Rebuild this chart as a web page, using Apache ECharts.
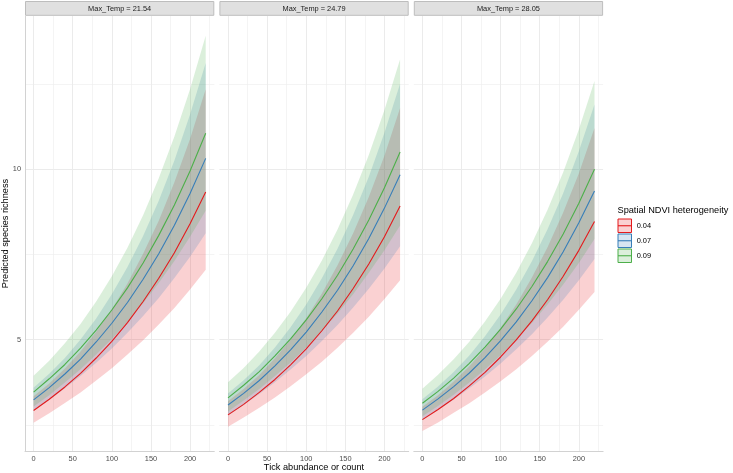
<!DOCTYPE html>
<html><head><meta charset="utf-8">
<script src="https://cdn.jsdelivr.net/npm/echarts@6/dist/echarts.min.js"></script>
<style>html,body{margin:0;padding:0;background:#fff}#c{width:733px;height:473px}</style>
</head><body><div id="c"></div>
<script>
// ---------- data ----------
const xs = [0, 20, 40, 60, 80, 100, 120, 140, 160, 180, 200, 220];
const panelLabels = ['Max_Temp = 21.54', 'Max_Temp = 24.79', 'Max_Temp = 28.05'];
const groupLabels = ['0.04', '0.07', '0.09'];
const xTicks = [0, 50, 100, 150, 200];
const xMinorTicks = [25, 75, 125, 175, 225];
const yTicks = [5, 10];
const yMinorTicks = [2.5, 7.5, 12.5];

// Max_Temp = 21.54
const fit_21_004 = [2.92, 3.25, 3.61, 4.01, 4.46, 4.95, 5.50, 6.12, 6.80, 7.55, 8.40, 9.33];
const lo_21_004  = [2.56, 2.84, 3.14, 3.45, 3.80, 4.16, 4.56, 4.98, 5.44, 5.93, 6.47, 7.05];
const hi_21_004  = [3.34, 3.71, 4.15, 4.65, 5.23, 5.89, 6.65, 7.52, 8.49, 9.62, 10.89, 12.35];
const fit_21_007 = [3.23, 3.59, 3.99, 4.43, 4.93, 5.48, 6.09, 6.77, 7.52, 8.36, 9.29, 10.32];
const lo_21_007  = [2.91, 3.23, 3.57, 3.93, 4.32, 4.74, 5.20, 5.69, 6.22, 6.81, 7.43, 8.12];
const hi_21_007  = [3.59, 4.00, 4.46, 5.00, 5.62, 6.33, 7.13, 8.04, 9.08, 10.26, 11.61, 13.12];
const fit_21_009 = [3.46, 3.85, 4.27, 4.75, 5.28, 5.87, 6.52, 7.25, 8.06, 8.95, 9.95, 11.06];
const lo_21_009  = [3.04, 3.37, 3.74, 4.13, 4.56, 5.02, 5.52, 6.07, 6.66, 7.31, 8.02, 8.78];
const hi_21_009  = [3.94, 4.38, 4.89, 5.46, 6.12, 6.86, 7.70, 8.65, 9.74, 10.96, 12.35, 13.92];

// Max_Temp = 24.79
const fit_24_004 = [2.79, 3.10, 3.45, 3.83, 4.26, 4.73, 5.26, 5.84, 6.50, 7.22, 8.02, 8.92];
const lo_24_004  = [2.44, 2.71, 3.00, 3.30, 3.63, 3.98, 4.35, 4.76, 5.20, 5.67, 6.19, 6.74];
const hi_24_004  = [3.19, 3.55, 3.96, 4.45, 5.00, 5.63, 6.35, 7.18, 8.12, 9.19, 10.40, 11.80];
const fit_24_007 = [3.08, 3.42, 3.80, 4.23, 4.70, 5.22, 5.81, 6.45, 7.17, 7.97, 8.86, 9.84];
const lo_24_007  = [2.77, 3.08, 3.40, 3.75, 4.12, 4.52, 4.96, 5.43, 5.94, 6.49, 7.09, 7.74];
const hi_24_007  = [3.42, 3.81, 4.25, 4.77, 5.36, 6.03, 6.80, 7.67, 8.66, 9.78, 11.07, 12.51];
const fit_24_009 = [3.29, 3.66, 4.06, 4.52, 5.02, 5.58, 6.20, 6.89, 7.66, 8.51, 9.46, 10.51];
const lo_24_009  = [2.89, 3.21, 3.55, 3.93, 4.33, 4.77, 5.25, 5.77, 6.33, 6.96, 7.62, 8.35];
const hi_24_009  = [3.75, 4.17, 4.65, 5.20, 5.82, 6.52, 7.32, 8.23, 9.26, 10.42, 11.74, 13.23];

// Max_Temp = 28.05
const fit_28_004 = [2.65, 2.95, 3.27, 3.64, 4.04, 4.49, 4.99, 5.55, 6.17, 6.86, 7.62, 8.47];
const lo_28_004  = [2.32, 2.57, 2.85, 3.13, 3.45, 3.78, 4.13, 4.52, 4.94, 5.38, 5.88, 6.40];
const hi_28_004  = [3.03, 3.37, 3.77, 4.22, 4.74, 5.35, 6.03, 6.82, 7.71, 8.73, 9.88, 11.21];
const fit_28_007 = [2.93, 3.26, 3.62, 4.02, 4.47, 4.97, 5.52, 6.14, 6.82, 7.58, 8.43, 9.36];
const lo_28_007  = [2.64, 2.93, 3.24, 3.57, 3.92, 4.30, 4.72, 5.16, 5.65, 6.17, 6.74, 7.37];
const hi_28_007  = [3.25, 3.62, 4.05, 4.53, 5.10, 5.74, 6.47, 7.30, 8.24, 9.30, 10.53, 11.90];
const fit_28_009 = [3.13, 3.48, 3.87, 4.30, 4.78, 5.31, 5.90, 6.56, 7.29, 8.10, 9.00, 10.00];
const lo_28_009  = [2.75, 3.05, 3.38, 3.74, 4.12, 4.54, 5.00, 5.49, 6.03, 6.62, 7.25, 7.95];
const hi_28_009  = [3.56, 3.97, 4.42, 4.94, 5.53, 6.20, 6.96, 7.83, 8.81, 9.91, 11.17, 12.59];

// ---------- assembly ----------
const panelData = [
  [[fit_21_004, lo_21_004, hi_21_004], [fit_21_007, lo_21_007, hi_21_007], [fit_21_009, lo_21_009, hi_21_009]],
  [[fit_24_004, lo_24_004, hi_24_004], [fit_24_007, lo_24_007, hi_24_007], [fit_24_009, lo_24_009, hi_24_009]],
  [[fit_28_004, lo_28_004, hi_28_004], [fit_28_007, lo_28_007, hi_28_007], [fit_28_009, lo_28_009, hi_28_009]]
];
const colors = ['#E41A1C', '#377EB8', '#4DAF4A'];
const fills = ['rgba(228,26,28,0.2)', 'rgba(55,126,184,0.2)', 'rgba(77,175,74,0.2)'];
const FONT = '"Liberation Sans", Arial, Helvetica, sans-serif';
const panelLefts = [25, 219.4, 413.8];
const PW = 189.3, PT = 16, PH = 435;
const XMIN = -11, XMAX = 231, YMIN = 1.73, YMAX = 14.5;

const grids = [], xAxes = [], yAxes = [], bandSeries = [], lineSeries = [], graphics = [];

function makeBand(p, g, lo, hi) {
  return {
    type: 'custom', xAxisIndex: p * 2, yAxisIndex: p * 2, silent: true, animation: false,
    data: xs.map((x, i) => [x, lo[i], hi[i]]),
    encode: { x: 0, y: [1, 2] },
    renderItem: function (params, api) {
      if (params.dataIndex !== 0) return null;
      const pts = [];
      for (let i = 0; i < xs.length; i++) pts.push(api.coord([xs[i], hi[i]]));
      for (let i = xs.length - 1; i >= 0; i--) pts.push(api.coord([xs[i], lo[i]]));
      return { type: 'polygon', shape: { points: pts }, style: { fill: fills[g], stroke: null } };
    }
  };
}

panelLefts.forEach((l, p) => {
  grids.push({ left: l, top: PT, width: PW, height: PH });
  xAxes.push({
    type: 'value', gridIndex: p, min: XMIN, max: XMAX, position: 'bottom',
    axisLine: { show: true, onZero: false, lineStyle: { color: '#d2d2d2', width: 1 } },
    axisTick: { show: false, customValues: xTicks },
    axisLabel: { customValues: xTicks, color: '#4d4d4d', fontSize: 7.4, fontFamily: FONT, margin: 4, formatter: v => String(v) },
    splitLine: { show: true, lineStyle: { color: '#ebebeb', width: 1 } }
  });
  xAxes.push({
    type: 'value', gridIndex: p, min: XMIN, max: XMAX, position: 'top',
    axisLine: { show: false, onZero: false }, axisTick: { show: false, customValues: xMinorTicks },
    axisLabel: { show: false, customValues: xMinorTicks },
    splitLine: { show: true, lineStyle: { color: '#ededed', width: 0.6 } }
  });
  yAxes.push({
    type: 'value', gridIndex: p, min: YMIN, max: YMAX, position: 'left',
    axisLine: { show: p === 0, onZero: false, lineStyle: { color: '#d2d2d2', width: 1 } },
    axisTick: { show: false, customValues: yTicks },
    axisLabel: { show: p === 0, customValues: yTicks, color: '#4d4d4d', fontSize: 7.4, fontFamily: FONT, margin: 4, formatter: v => String(v) },
    splitLine: { show: true, lineStyle: { color: '#ebebeb', width: 1 } }
  });
  yAxes.push({
    type: 'value', gridIndex: p, min: YMIN, max: YMAX, position: 'right',
    axisLine: { show: false, onZero: false }, axisTick: { show: false, customValues: yMinorTicks },
    axisLabel: { show: false, customValues: yMinorTicks },
    splitLine: { show: true, lineStyle: { color: '#ededed', width: 0.6 } }
  });

  panelData[p].forEach((grp, g) => {
    const fit = grp[0], lo = grp[1], hi = grp[2];
    bandSeries.push(makeBand(p, g, lo, hi));
    lineSeries.push({
      type: 'line', xAxisIndex: p * 2, yAxisIndex: p * 2, name: groupLabels[g],
      data: xs.map((x, i) => [x, fit[i]]), symbol: 'none', silent: true,
      lineStyle: { color: colors[g], width: 1.1 }, animation: false
    });
  });

  graphics.push({ type: 'rect', shape: { x: l + 0.5, y: 1.5, width: PW - 1, height: 13.8 },
    style: { fill: '#e0e0e0', stroke: '#bdbdbd', lineWidth: 1 } });
  graphics.push({ type: 'text', x: l + PW / 2, y: 8.6,
    style: { text: panelLabels[p], align: 'center', verticalAlign: 'middle', fill: '#1a1a1a', font: '7.4px ' + FONT } });
});

graphics.push({ type: 'text', x: 5.5, y: 233.5, rotation: Math.PI / 2,
  style: { text: 'Predicted species richness', align: 'center', verticalAlign: 'middle', fill: '#000', font: '9.2px ' + FONT } });
graphics.push({ type: 'text', x: 314, y: 467.5,
  style: { text: 'Tick abundance or count', align: 'center', verticalAlign: 'middle', fill: '#000', font: '9.2px ' + FONT } });

graphics.push({ type: 'text', x: 617.5, y: 210,
  style: { text: 'Spatial NDVI heterogeneity', align: 'left', verticalAlign: 'middle', fill: '#000', font: '9.2px ' + FONT } });
groupLabels.forEach((lab, g) => {
  const y0 = 218.5 + g * 15;
  graphics.push({ type: 'rect', shape: { x: 618, y: y0 + 0.5, width: 13.5, height: 13.5 },
    style: { fill: fills[g], stroke: colors[g], lineWidth: 1 } });
  graphics.push({ type: 'line', shape: { x1: 618, y1: y0 + 7.25, x2: 631.5, y2: y0 + 7.25 },
    style: { stroke: colors[g], lineWidth: 1.1 } });
  graphics.push({ type: 'text', x: 636.7, y: y0 + 7.3,
    style: { text: lab, align: 'left', verticalAlign: 'middle', fill: '#000', font: '7.4px ' + FONT } });
});

const chart = echarts.init(document.getElementById('c'), null, { renderer: 'canvas' });
chart.setOption({
  backgroundColor: '#ffffff',
  animation: false,
  grid: grids,
  xAxis: xAxes,
  yAxis: yAxes,
  series: bandSeries.concat(lineSeries),
  graphic: graphics
});
</script></body></html>
